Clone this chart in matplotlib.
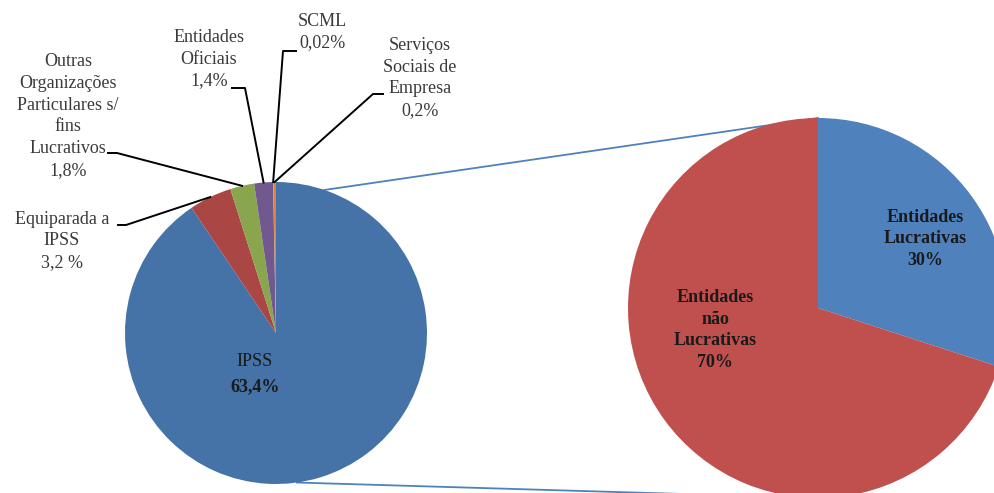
import matplotlib.pyplot as plt
import numpy as np

plt.rcParams['font.family'] = ['Liberation Serif', 'DejaVu Serif']

# left pie: breakdown of the non-profit entities (% of total)
left_names = ['IPSS', 'Equiparada a\nIPSS',
              'Outras\nOrganizações\nParticulares s/\nfins\nLucrativos',
              'Entidades\nOficiais', 'SCML', 'Serviços\nSociais de\nEmpresa']
left_values = [63.4, 3.2, 1.8, 1.4, 0.02, 0.2]
left_pct = ['63,4%', '3,2 %', '1,8%', '1,4%', '0,02%', '0,2%']
left_colors = ['#4572A7', '#AA4643', '#89A54E', '#71588F', '#4198AF', '#DB843D']

# right pie: profit vs non-profit
right_names = ['Entidades\nLucrativas', 'Entidades\nnão\nLucrativas']
right_values = [30, 70]
right_pct = ['30%', '70%']
right_colors = ['#4F81BD', '#C0504D']

W, H = 995, 493


def P(x, y):
    # pixel coords (y down) -> data coords (y up)
    return x, H - y


fig = plt.figure(figsize=(W / 100, H / 100), dpi=100)
ax = fig.add_axes([0, 0, 1, 1])

lc = P(276, 333)
lr = 151
rc = P(818, 308)
rr = 190

# connector lines between the two pies (behind)
for ang, target in [(71.3, P(818, 118)), (-82.0, P(818, 498))]:
    a = np.radians(ang)
    x0 = lc[0] + lr * np.cos(a)
    y0 = lc[1] + lr * np.sin(a)
    ax.plot([x0, target[0]], [y0, target[1]], color='#4F81BD', lw=1.3, zorder=0)

wl, _ = ax.pie(left_values, colors=left_colors, startangle=90, counterclock=False,
               center=lc, radius=lr, wedgeprops=dict(linewidth=0))
wr, _ = ax.pie(right_values, colors=right_colors, startangle=90, counterclock=False,
               center=rc, radius=rr, wedgeprops=dict(linewidth=0))

txt = '#1a1a1a'
fs = 13
ls = 1.36

# IPSS label inside the pie
ax.text(*P(255, 362), left_names[0], ha='center', va='center', fontsize=fs, color=txt)
ax.text(*P(255, 387), left_pct[0], ha='center', va='center', fontsize=fs,
        color=txt, fontweight='bold')

# outside labels for the small slices: text centre and leader elbow points
label_pos = [None, (62, 241), (68, 116), (209, 59), (322, 32), (420, 78)]
elbows = [None,
          [(118, 225), (126, 225)],
          [(108, 153), (117, 153)],
          [(232, 88), (245, 88)],
          [(296, 51), (283, 51)],
          [(383, 94), (373, 94)]]

for i in range(1, len(left_values)):
    ax.text(*P(*label_pos[i]), left_names[i] + '\n' + left_pct[i], ha='center',
            va='center', multialignment='center', fontsize=fs, color='#3a3a3a',
            linespacing=ls)
    w = wl[i]
    mid = np.radians((w.theta1 + w.theta2) / 2)
    ax_x = lc[0] + lr * np.cos(mid)
    ax_y = lc[1] + lr * np.sin(mid)
    pts = [P(*p) for p in elbows[i]] + [(ax_x, ax_y)]
    xs, ys = zip(*pts)
    ax.plot(xs, ys, color='black', lw=1.4, zorder=3)

# right pie labels
ax.text(*P(925, 239), right_names[0] + '\n' + right_pct[0], ha='center', va='center',
        fontsize=fs, fontweight='bold', color=txt, linespacing=ls)
ax.text(*P(715, 330), right_names[1] + '\n' + right_pct[1], ha='center', va='center',
        fontsize=fs, fontweight='bold', color=txt, linespacing=ls)

ax.set_xlim(0, W)
ax.set_ylim(0, H)
ax.set_aspect('equal')
ax.axis('off')

fig.savefig('out.png', dpi=100)
